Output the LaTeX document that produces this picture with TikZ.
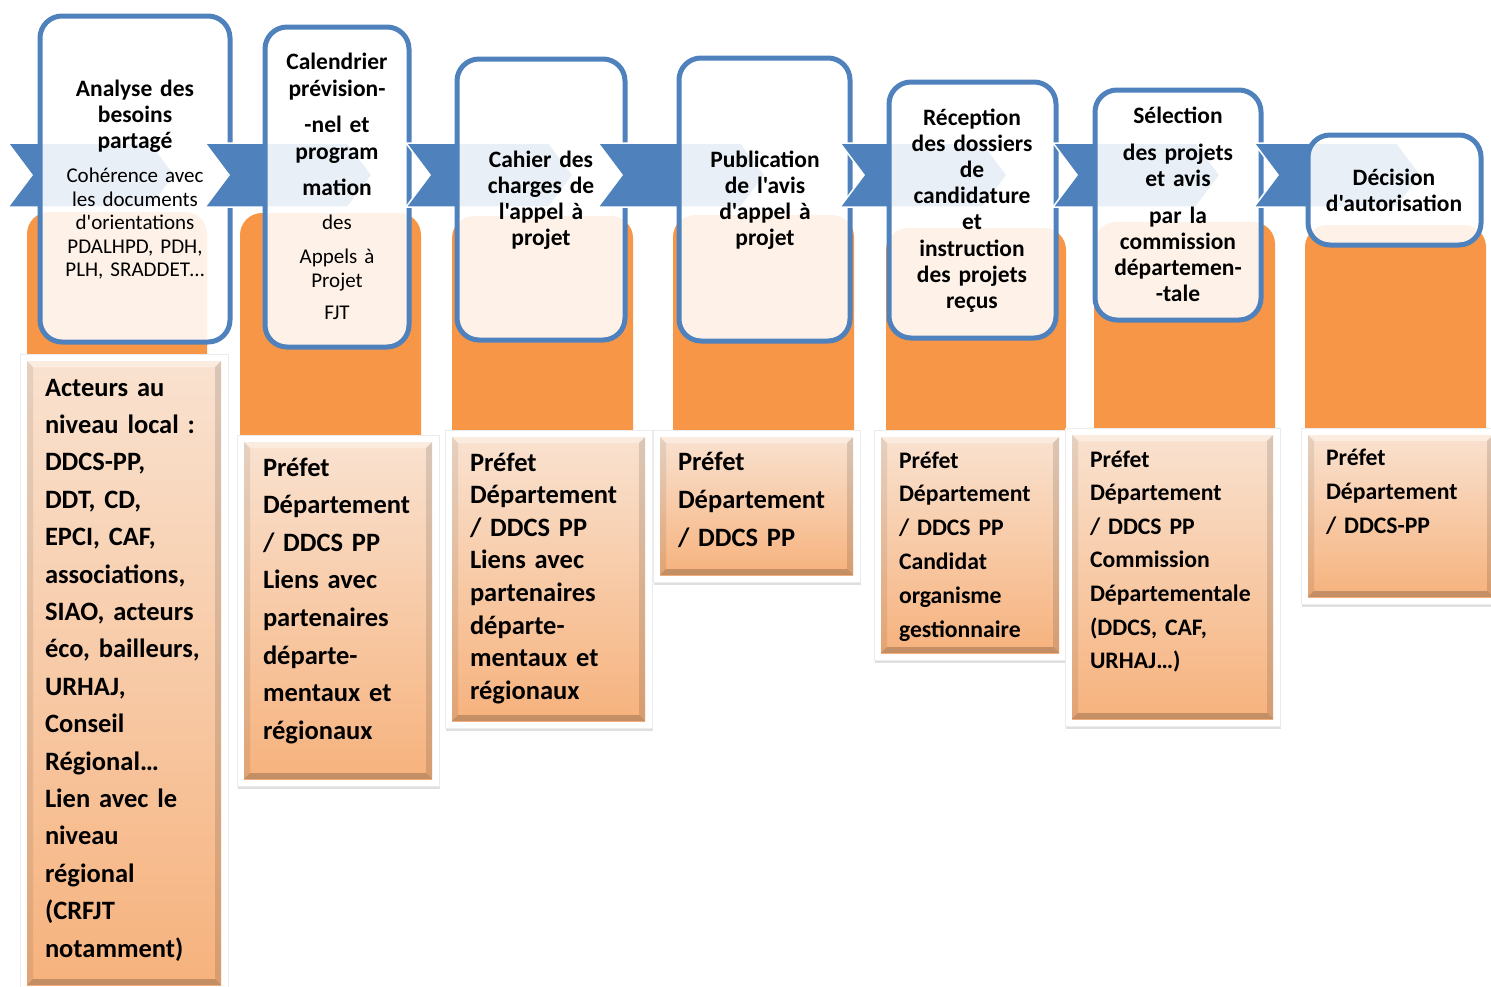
\documentclass[tikz,border=0pt]{standalone}
\usepackage{fontspec}
\setmainfont{Carlito}[Ligatures=TeXOff]
\usetikzlibrary{shadows}
\definecolor{procblue}{RGB}{79,129,189}
\definecolor{procorange}{RGB}{247,150,70}
\definecolor{peachtop}{RGB}{249,226,208}
\definecolor{peachbot}{RGB}{246,178,125}
\begin{document}
\begin{tikzpicture}[
    x = 1pt, y = -1pt,
    outer sep = 0mm, inner sep = 0mm,
    stage/.style = {
      draw = procblue, line width = 5pt, rounded corners = 22pt,
      fill = white, fill opacity = .88,
    },
    chev/.style = {fill = procblue, draw = white, line width = 1.5pt},
    column/.style = {fill = procorange, rounded corners = 22pt},
    frame/.style = {
      fill = white, draw = black!8,
      drop shadow = {opacity = .25, shadow xshift = 1pt, shadow yshift = -3pt},
    },
    card/.style = {top color = peachtop, bottom color = peachbot},
    head/.style = {anchor = base, align = center, text width = 190pt,
      font = \bfseries\fontsize{23.5}{26}\selectfont},
    note/.style = {anchor = base, align = center, text width = 190pt,
      font = \fontsize{21}{23.5}\selectfont},
    who/.style = {anchor = base west, align = left, text width = 260pt,
      font = \bfseries\fontsize{26.5}{37.4}\selectfont},
  ]

  \useasboundingbox (0,0) rectangle (1491,986);

  % orange column, chevron, step box
  \foreach \n/\xa/\ya/\xb/\yb/\oa/\ot/\ob/\obot in {
      8/40/16/230/342/27/212/207/390,
      205/265/27/409/347/240/213/421/470,
      406/457/59/625/340/452/216/633/460,
      598/679/58/850/341/673/215/854/460,
      840/889/82/1056/338/886/228/1066/460,
      1053/1095/90/1261/320/1094/222/1275/460,
      1254/1308/135/1481/245/1305/225/1486/460} {
    \fill[column] (\oa,\ot) rectangle (\ob,\obot);
    \draw[chev] (\n,143) -- ++(143,0) -- ++(24,32) -- ++(-24,32)
      -- ++(-143,0) -- ++(24,-32) -- cycle;
    \draw[stage] (\xa,\ya) rectangle (\xb,\yb);
  }

  % actor cards
  \foreach \xa/\ya/\xb/\yb in {20/354/228/992, 237/435/439/786,
      445/430/652/728, 653/430/860/582, 874/430/1066/660,
      1065/428/1280/726, 1301/428/1500/604} {
    \filldraw[frame] (\xa,\ya) rectangle (\xb,\yb);
    \shade[card] (\xa+7,\ya+7) rectangle (\xb-7,\yb-7);
    \fill[white, opacity = .35] (\xa+7,\ya+7) -- (\xb-7,\ya+7)
      -- (\xb-13,\ya+13) -- (\xa+13,\ya+13) -- cycle;
    \fill[black, opacity = .2] (\xa+7,\yb-7) -- (\xb-7,\yb-7)
      -- (\xb-13,\yb-13) -- (\xa+13,\yb-13) -- cycle;
    \fill[black, opacity = .08] (\xa+7,\ya+7) -- (\xa+13,\ya+13)
      -- (\xa+13,\yb-13) -- (\xa+7,\yb-7) -- cycle;
    \fill[black, opacity = .12] (\xb-7,\ya+7) -- (\xb-13,\ya+13)
      -- (\xb-13,\yb-13) -- (\xb-7,\yb-7) -- cycle;
  }

  \node[head] (t1) at (135,96) {Analyse des\\ besoins\\ partagé};
  \node[note] (n1) at (135,182.5) {Cohérence avec\\ les documents\\
    d'orientations\\ PDALHPD, PDH,\\ PLH, SRADDET…};
  \node[head, font = \bfseries\fontsize{23.5}{27}\selectfont] (t2) at (337,69)
    {Calendrier\\ prévision-\\[9pt] -nel et\\ program\\[9pt] mation};
  \node[note] (n2) at (337,229.5) {des\\[10.5pt] Appels à\\ Projet\\[8.5pt] FJT};
  \node[head] (t3) at (541,167) {Cahier des\\ charges de\\ l'appel à\\ projet};
  \node[head] (t4) at (765,167) {Publication\\ de l'avis\\ d'appel à\\ projet};
  \node[head, font = \bfseries\fontsize{23.5}{26.2}\selectfont] (t5) at (972,125)
    {Réception\\ des dossiers\\ de\\ candidature\\ et\\ instruction\\
    des projets\\ reçus};
  \node[head] (t6) at (1178,123) {Sélection\\[11pt] des projets\\ et avis\\[11pt]
    par la\\ commission\\ départemen-\\ -tale};
  \node[head] (t7) at (1394,185) {Décision\\ d'autorisation};

  \node[who] (w1) at (45,396) {Acteurs au\\ niveau local :\\ DDCS-PP,\\
    DDT, CD,\\ EPCI, CAF,\\ associations,\\ SIAO, acteurs\\ éco, bailleurs,\\
    URHAJ,\\ Conseil\\ Régional…\\ Lien avec le\\ niveau\\ régional\\
    (CRFJT\\ notamment)};
  \node[who, font = \bfseries\fontsize{26.5}{37.6}\selectfont] (w2) at (263,476)
    {Préfet\\ Département\\ / DDCS PP\\ Liens avec\\ partenaires\\
    départe-\\ mentaux et\\ régionaux};
  \node[who, font = \bfseries\fontsize{26.5}{32.6}\selectfont] (w3) at (470,471)
    {Préfet\\ Département\\ / DDCS PP\\ Liens avec\\ partenaires\\
    départe-\\ mentaux et\\ régionaux};
  \node[who, font = \bfseries\fontsize{26.5}{38}\selectfont] (w4) at (678,470)
    {Préfet\\ Département\\ / DDCS PP};
  \node[who, font = \bfseries\fontsize{23.7}{33.8}\selectfont] (w5) at (899,468)
    {Préfet\\ Département\\ / DDCS PP\\ Candidat\\ organisme\\ gestionnaire};
  \node[who, font = \bfseries\fontsize{23.7}{33.6}\selectfont] (w6) at (1090,467)
    {Préfet\\ Département\\ / DDCS PP\\ Commission\\ Départementale\\
    (DDCS, CAF,\\ URHAJ…)};
  \node[who, font = \bfseries\fontsize{23.7}{34}\selectfont] (w7) at (1326,465)
    {Préfet\\ Département\\ / DDCS-PP};
\end{tikzpicture}
\end{document}
